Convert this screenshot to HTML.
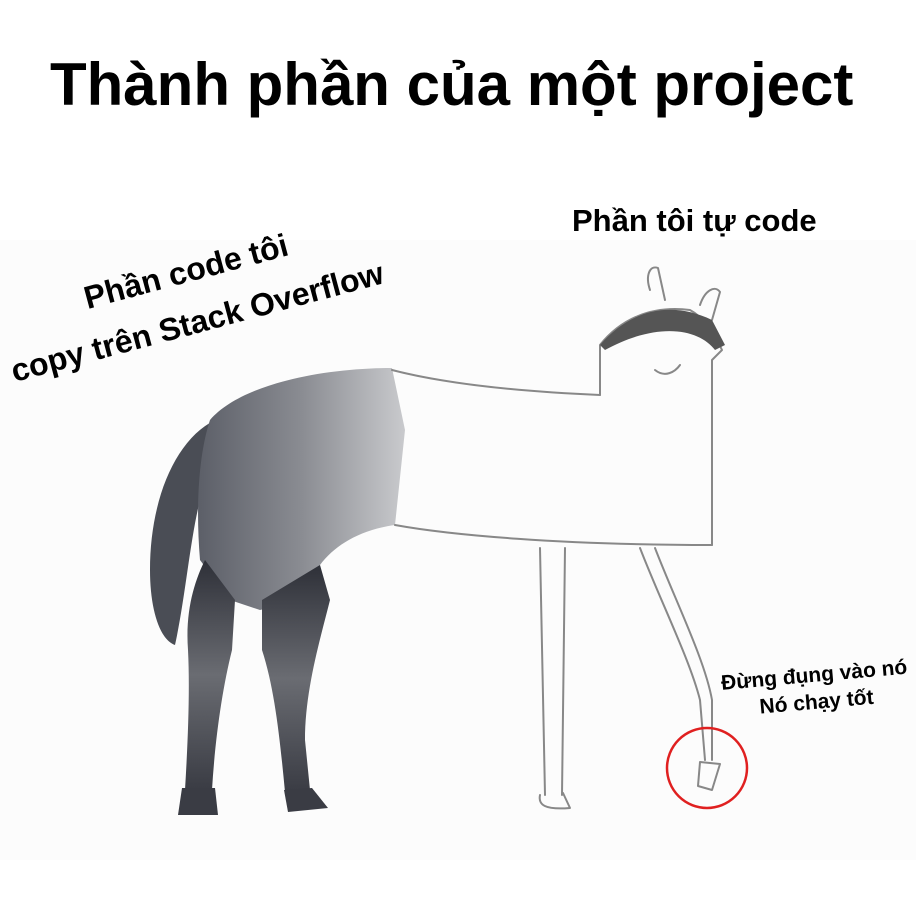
<!DOCTYPE html>
<html><head><meta charset="utf-8">
<style>
html,body{margin:0;padding:0;background:#fff;}
body{width:916px;height:900px;overflow:hidden;position:relative;font-family:"Liberation Sans","DejaVu Sans",sans-serif;}
.t{position:absolute;font-weight:bold;color:#000;white-space:nowrap;}
.r{transform:rotate(-15deg);transform-origin:0 29px;line-height:32px;font-size:32px;}
</style></head><body>
<svg width="916" height="900" style="position:absolute;left:0;top:0">
<defs>
<linearGradient id="bd" x1="0" y1="0" x2="1" y2="0">
<stop offset="0" stop-color="#5c5f68"/><stop offset="0.5" stop-color="#8a8c92"/><stop offset="1" stop-color="#c9cacd"/>
</linearGradient>
<linearGradient id="lg" x1="0" y1="0" x2="0" y2="1">
<stop offset="0" stop-color="#2e3038"/><stop offset="0.5" stop-color="#6a6c72"/><stop offset="1" stop-color="#3a3c44"/>
</linearGradient>
</defs>
<rect x="0" y="240" width="916" height="620" fill="#fcfcfc"/>
<path d="M215,420 C175,440 150,500 150,570 C150,610 160,640 175,645 C185,600 190,540 200,500 C205,470 215,440 230,425 Z" fill="#4a4d55"/>
<path d="M210,420 C240,385 320,368 392,368 L405,430 L395,525 C360,530 335,545 320,565 L300,600 L260,610 L230,600 L200,560 C195,500 200,450 210,420 Z" fill="url(#bd)"/>
<path d="M205,560 L235,600 L232,650 C222,690 215,740 212,790 L185,790 C188,740 190,690 188,650 C185,610 195,580 205,560 Z" fill="url(#lg)"/>
<path d="M182,788 L215,788 L218,815 L178,815 Z" fill="#3a3c44"/>
<path d="M262,600 L320,565 L330,600 C320,640 305,690 305,740 L310,790 L285,792 C280,740 275,690 262,650 Z" fill="url(#lg)"/>
<path d="M284,790 L312,788 L328,808 L288,812 Z" fill="#3a3c44"/>
<g fill="none" stroke="#888" stroke-width="2" stroke-linecap="round" stroke-linejoin="round">
<path d="M392,370 C450,385 530,392 600,395"/>
<path d="M600,395 L600,345 C620,320 650,305 690,310 C705,318 715,335 722,350 L712,360 L712,545"/>
<path d="M395,525 C450,535 560,545 712,545"/>
<path d="M540,548 L545,795 M565,548 L562,795"/>
<path d="M540,795 C538,805 545,810 570,808 L563,793"/>
<path d="M640,548 C660,600 690,660 700,700 L705,760 M655,548 C675,600 705,660 712,700 L712,760"/>
<path d="M700,762 L720,764 L712,790 L698,786 Z"/>
<path d="M650,290 C645,275 650,265 658,268 L665,300 M700,305 C705,290 715,285 720,292 L712,320"/>
<path d="M655,370 C665,378 675,372 680,365"/>
</g>
<path d="M600,345 C630,310 670,300 712,320 L725,345 L715,350 C700,330 660,320 605,350 Z" fill="#555"/>
<circle cx="707" cy="768" r="40" fill="none" stroke="#e02020" stroke-width="2.5"/>
</svg>
<div class="t" style="left:50px;top:50px;font-size:60px;">Thành phần của một project</div>
<div class="t" style="left:572px;top:203px;font-size:31px;">Phần tôi tự code</div>
<div class="t r" style="left:88px;top:282px;">Phần code tôi</div>
<div class="t r" style="left:15px;top:355px;">copy trên Stack Overflow</div>
<div class="t" style="left:720px;top:670px;font-size:21px;transform:rotate(-5deg);transform-origin:left top;text-align:center;line-height:27px;">
<div>Đừng đụng vào nó</div>
<div>Nó chạy tốt</div></div>
</body></html>
